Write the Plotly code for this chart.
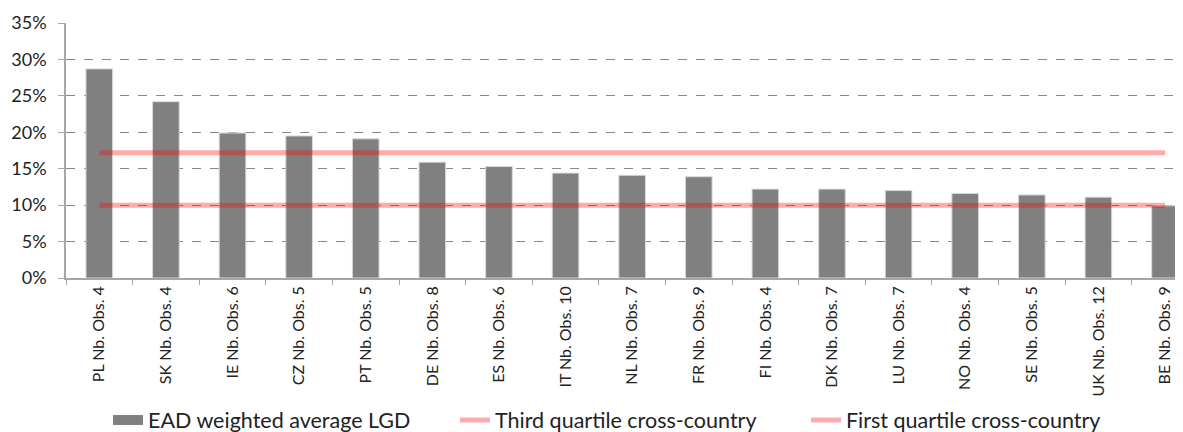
import plotly.graph_objects as go

categories = ["PL Nb. Obs. 4", "SK Nb. Obs. 4", "IE Nb. Obs. 6", "CZ Nb. Obs. 5", "PT Nb. Obs. 5",
              "DE Nb. Obs. 8", "ES Nb. Obs. 6", "IT Nb. Obs. 10", "NL Nb. Obs. 7", "FR Nb. Obs. 9",
              "FI Nb. Obs. 4", "DK Nb. Obs. 7", "LU Nb. Obs. 7", "NO Nb. Obs. 4", "SE Nb. Obs. 5",
              "UK Nb. Obs. 12", "BE Nb. Obs. 9"]
lgd = [28.7, 24.2, 19.9, 19.5, 19.1, 15.9, 15.3, 14.4, 14.1, 13.9, 12.2, 12.2, 12.0, 11.6, 11.4, 11.1, 9.9]
third_quartile = [17.2] * len(categories)
first_quartile = [10.0] * len(categories)
y_ticks = [0, 5, 10, 15, 20, 25, 30, 35]
y_tick_labels = [f"{v}%" for v in y_ticks]

FONT = "Lato"
# page has an 8px body margin, so the figure is drawn 8px in from the top-left corner
W, H = 1175, 424
BAR_COLOR = "#808080"
LINE_COLOR = "rgba(255,0,0,0.33)"

fig = go.Figure()
fig.add_trace(go.Bar(x=categories, y=lgd, name="EAD weighted average LGD",
                     marker=dict(color=BAR_COLOR, line=dict(color="#d9d9d9", width=1)),
                     width=0.4, showlegend=False))
# legend-only entry giving the wide rectangular swatch of the bar series
fig.add_trace(go.Scatter(x=[None], y=[None], mode="lines", name="EAD weighted average LGD",
                         line=dict(color=BAR_COLOR, width=11), legend="legend"))
fig.add_trace(go.Scatter(x=categories, y=third_quartile, mode="lines", name="Third quartile cross-country",
                         line=dict(color=LINE_COLOR, width=5), legend="legend2"))
fig.add_trace(go.Scatter(x=categories, y=first_quartile, mode="lines", name="First quartile cross-country",
                         line=dict(color=LINE_COLOR, width=5), legend="legend3"))

def leg(xpx):
    return dict(orientation="h", xref="container", yref="container", x=xpx / W, xanchor="left",
                y=(H - 412) / H, yanchor="middle", bgcolor="rgba(0,0,0,0)",
                font=dict(size=21.5, family=FONT, color="#222222"))

fig.update_layout(
    width=W, height=H,
    margin=dict(l=58, r=0, t=15, b=154, autoexpand=False),
    plot_bgcolor="white", paper_bgcolor="white",
    font=dict(family=FONT, color="#333333"),
    showlegend=True,
    legend=leg(100), legend2=leg(447), legend3=leg(798),
    xaxis=dict(range=[-0.5, 16.27], tickangle=-90, tickfont=dict(size=16, family=FONT, color="#222222"),
               showline=True, linecolor="#a6a6a6", linewidth=1.5, ticks="outside", ticklen=5,
               tickcolor="#a6a6a6", tickson="boundaries", showgrid=False, automargin=False),
    yaxis=dict(range=[0, 35], tickvals=y_ticks, ticktext=y_tick_labels,
               tickfont=dict(size=18, family=FONT, color="#222222"), ticklabelstandoff=8,
               showline=True, linecolor="#a6a6a6", linewidth=1.5, ticks="outside", ticklen=6,
               tickcolor="#a6a6a6", showgrid=True, gridcolor="#888888", griddash="dash", gridwidth=1,
               zeroline=False, automargin=False),
)
fig.write_html("out.html")
